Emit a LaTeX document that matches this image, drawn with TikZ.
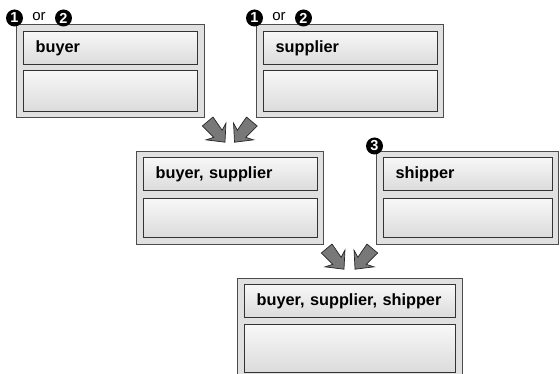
\documentclass[tikz,border=0pt]{standalone}
\usepackage{fontspec}
\setmainfont{Liberation Sans}

\tikzset{
  mergearrow/.pic={
    \filldraw[fill=black!53, draw=black!85, line width=0.7pt, line join=miter]
      (0,14) -- (13,0) -- (5.5,3) -- (7,-13) -- (-7,-13) -- (-5.5,3) -- (-13,0) -- cycle;
  }
}

\begin{document}
\begin{tikzpicture}[x=1pt,y=-1pt,
    partybox/.style={draw=black!70, fill=black!12, line width=0.9pt, anchor=north west,
      inner sep=0pt, minimum width=#1, minimum height=93pt},
    rowbox/.style={draw=black!80, line width=1.2pt, top color=black!3, bottom color=black!14,
      anchor=north west, inner sep=0pt, minimum width=#1},
    namerow/.style={rowbox=#1, minimum height=33pt, text width=#1-24pt, inner xsep=12pt,
      align=left, font=\fontsize{16.3}{19}\selectfont\bfseries},
    badge/.style={circle, fill=black, text=white, inner sep=0pt, minimum size=17pt,
      font=\fontsize{14.5}{14.5}\selectfont\bfseries},
    ortext/.style={inner sep=0pt, font=\fontsize{15}{15}\selectfont}]
  \useasboundingbox (0,0) rectangle (560,374);

  % first parties
  \node[partybox=188pt] (buyer) at (16,24) {};
  \node[namerow=174pt] (buyername) at (23,31) {buyer};
  \node[rowbox=174pt, minimum height=41pt] (buyerrest) at (23,70) {};
  \node[badge] (buyerone) at (14.5,18) {1};
  \node[ortext] (buyeror) at (39,16.5) {or};
  \node[badge] (buyertwo) at (63.5,18) {2};

  \node[partybox=187pt] (supplier) at (256,24) {};
  \node[namerow=174pt] (suppliername) at (263,31) {supplier};
  \node[rowbox=174pt, minimum height=41pt] (supplierrest) at (263,70) {};
  \node[badge] (supplierone) at (254.5,18) {1};
  \node[ortext] (supplieror) at (279,16.5) {or};
  \node[badge] (suppliertwo) at (303.5,18) {2};

  % merged pair and shipper
  \node[partybox=187pt] (pair) at (136,151) {};
  \node[namerow=174pt] (pairname) at (143,157) {buyer, supplier};
  \node[rowbox=174pt, minimum height=39pt] (pairrest) at (143,198) {};

  \node[partybox=182pt] (shipper) at (376,151) {};
  \node[namerow=169pt] (shippername) at (383,157) {shipper};
  \node[rowbox=169pt, minimum height=39pt] (shipperrest) at (383,198) {};
  \node[badge] (shipperthree) at (374.5,146) {3};

  % all three
  \node[partybox=225pt, minimum height=102pt] (all) at (237,278) {};
  \node[namerow=211pt] (allname) at (244,284) {buyer, supplier, shipper};
  \node[rowbox=211pt, minimum height=48pt] (allrest) at (244,324) {};

  % merge arrows
  \pic[rotate=40] at (216,131.5) {mergearrow};
  \pic[rotate=-40] at (243.5,131.5) {mergearrow};
  \pic[rotate=40] at (335,258.5) {mergearrow};
  \pic[rotate=-40] at (364,258.5) {mergearrow};
\end{tikzpicture}
\end{document}
